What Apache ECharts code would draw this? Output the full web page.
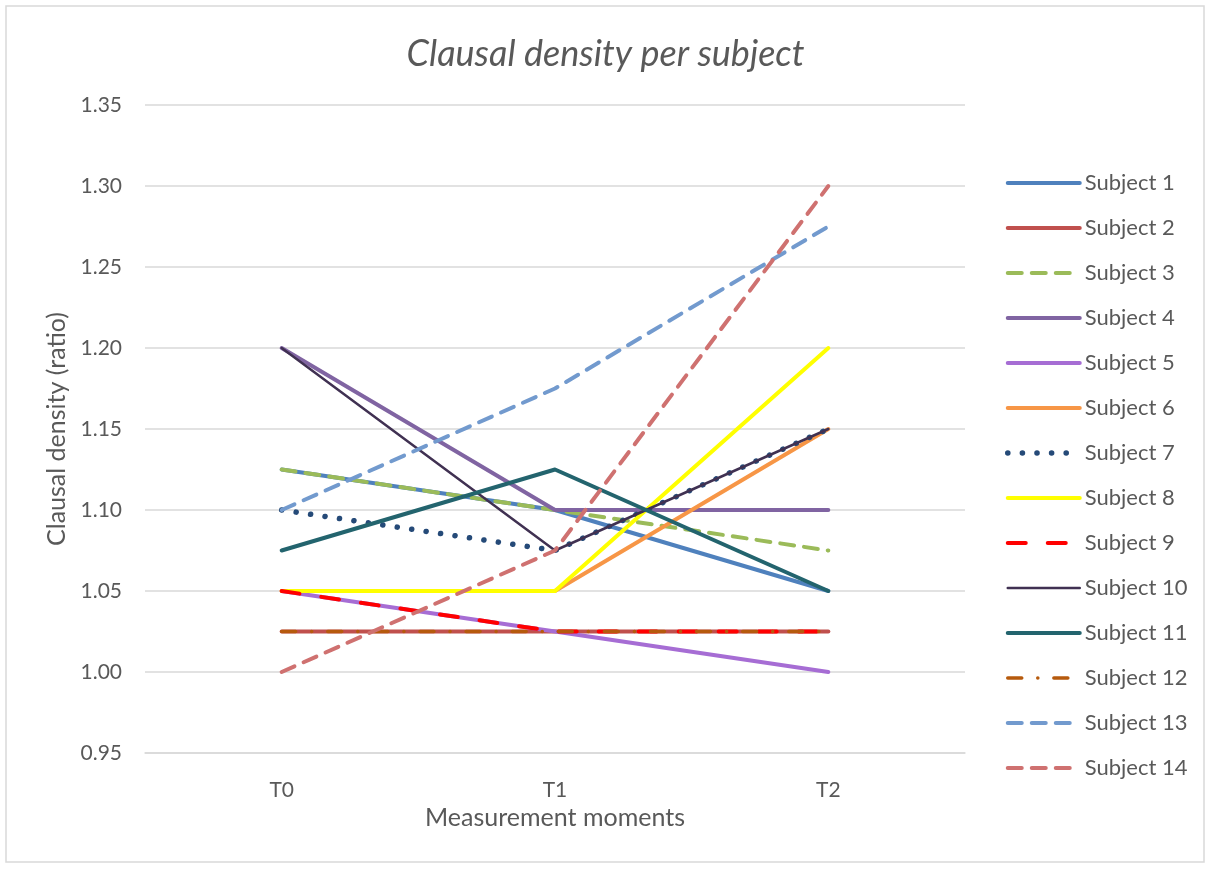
<!DOCTYPE html>
<html>
<head>
<meta charset="utf-8">
<script src="https://cdn.jsdelivr.net/npm/echarts@6/dist/echarts.min.js"></script>
<style>
  html, body { margin: 0; padding: 0; background: #fff; }
  #main { width: 1211px; height: 870px; }
</style>
</head>
<body>
<div id="main"></div>
<script>
// measurement moments
const moments = ['T0', 'T1', 'T2']

// clausal density per subject (T0, T1, T2)
const subject1 = [1.125, 1.10, 1.05]
const subject2 = [1.025, 1.025, 1.025]
const subject3 = [1.125, 1.10, 1.075]
const subject4 = [1.20, 1.10, 1.10]
const subject5 = [1.05, 1.025, 1.00]
const subject6 = [1.05, 1.05, 1.15]
const subject7 = [1.10, 1.075, 1.15]
const subject8 = [1.05, 1.05, 1.20]
const subject9 = [1.05, 1.025, 1.025]
const subject10 = [1.20, 1.075, 1.15]
const subject11 = [1.075, 1.125, 1.05]
const subject12 = [1.025, 1.025, 1.025]
const subject13 = [1.10, 1.175, 1.275]
const subject14 = [1.00, 1.075, 1.30]

const names = ['Subject 1', 'Subject 2', 'Subject 3', 'Subject 4', 'Subject 5', 'Subject 6', 'Subject 7',
  'Subject 8', 'Subject 9', 'Subject 10', 'Subject 11', 'Subject 12', 'Subject 13', 'Subject 14']
const values = [subject1, subject2, subject3, subject4, subject5, subject6, subject7,
  subject8, subject9, subject10, subject11, subject12, subject13, subject14]

// line looks, one per subject
const looks = [
  { color: '#4F81BD', width: 4, type: 'solid' },
  { color: '#C0504D', width: 4, type: 'solid' },
  { color: '#9BBB59', width: 4, type: [14, 10] },
  { color: '#8064A2', width: 4, type: 'solid' },
  { color: '#A66DD4', width: 4, type: 'solid' },
  { color: '#F79646', width: 4, type: 'solid' },
  { color: '#254A78', width: 5.5, type: [0.1, 14.5] },
  { color: '#FFFF00', width: 4, type: 'solid' },
  { color: '#FF0000', width: 4, type: [18, 22] },
  { color: '#403152', width: 2.5, type: 'solid' },
  { color: '#23646E', width: 4, type: 'solid' },
  { color: '#B65A0D', width: 3.5, type: [14, 16, 0.1, 16] },
  { color: '#729ACE', width: 4, type: [14, 10] },
  { color: '#CF7170', width: 4, type: [14, 10] }
]

const font = 'Lato, "Open Sans", sans-serif'
const grey = '#595959'

var chart = echarts.init(document.getElementById('main'))

var series = names.map(function (n, i) {
  return {
    name: n,
    type: 'line',
    data: values[i],
    symbol: 'none',
    lineStyle: {
      color: looks[i].color,
      width: looks[i].width,
      type: looks[i].type,
      cap: 'round',
      join: 'round'
    },
    itemStyle: { color: looks[i].color },
    emphasis: { disabled: true }
  }
})

var option = {
  animation: false,
  textStyle: { fontFamily: font },
  title: {
    text: 'Clausal density per subject',
    left: 'center',
    top: 31,
    textStyle: { fontSize: 36, fontStyle: 'italic', fontWeight: 'normal', color: grey, fontFamily: font }
  },
  graphic: [{
    type: 'rect',
    shape: { x: 6, y: 6, width: 1198, height: 856 },
    style: { fill: 'none', stroke: '#D9D9D9', lineWidth: 1.5 },
    silent: true
  }],
  legend: {
    orient: 'vertical',
    left: 1000,
    top: 167,
    itemWidth: 72,
    itemHeight: 14,
    itemGap: 23,
    data: names,
    itemStyle: { opacity: 0 },
    lineStyle: { width: 'inherit', type: 'inherit', cap: 'round' },
    textStyle: { fontSize: 22, color: grey, fontFamily: font }
  },
  grid: { left: 145, right: 246, top: 105, bottom: 117 },
  xAxis: {
    type: 'category',
    data: moments,
    name: 'Measurement moments',
    nameLocation: 'middle',
    nameGap: 40,
    nameTextStyle: { fontSize: 25, color: grey },
    axisLine: { show: true, lineStyle: { color: '#D9D9D9', width: 1.5 } },
    axisTick: { show: false },
    axisLabel: { fontSize: 21, color: grey, margin: 27 }
  },
  yAxis: {
    type: 'value',
    min: 0.95,
    max: 1.35,
    interval: 0.05,
    name: 'Clausal density (ratio)',
    nameLocation: 'middle',
    nameGap: 75,
    nameTextStyle: { fontSize: 25, color: grey },
    axisLine: { show: false },
    axisTick: { show: false },
    splitLine: { lineStyle: { color: '#D9D9D9', width: 1.5 } },
    axisLabel: {
      fontSize: 21,
      color: grey,
      margin: 23,
      formatter: function (v) { return v.toFixed(2) }
    }
  },
  series: series
}

chart.setOption(option)
</script>
</body>
</html>
